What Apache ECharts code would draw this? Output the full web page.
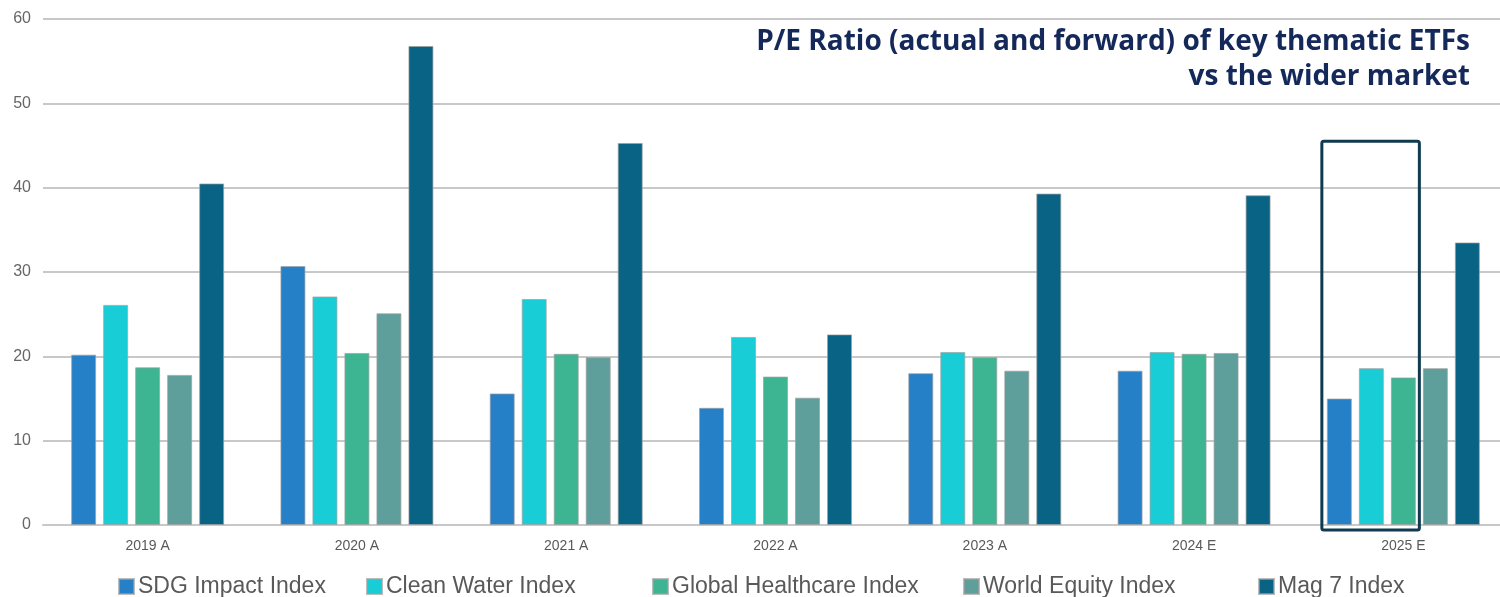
<!DOCTYPE html>
<html>
<head>
<meta charset="utf-8">
<script src="https://cdn.jsdelivr.net/npm/echarts@6/dist/echarts.min.js"></script>
<style>
  html, body { margin: 0; padding: 0; background: #fff; }
  #chart { width: 1500px; height: 597px; }
</style>
</head>
<body>
<div id="chart"></div>
<script>
// data
var years = ['2019 A', '2020 A', '2021 A', '2022 A', '2023 A', '2024 E', '2025 E'];
var sdg = [20.2, 30.7, 15.6, 13.9, 18.0, 18.3, 15.0];
var cleanWater = [26.1, 27.1, 26.8, 22.3, 20.5, 20.5, 18.6];
var healthcare = [18.7, 20.4, 20.3, 17.6, 19.9, 20.3, 17.5];
var worldEquity = [17.8, 25.1, 19.9, 15.1, 18.3, 20.4, 18.6];
var mag7 = [40.5, 56.8, 45.3, 22.6, 39.3, 39.1, 33.5];
var yTicks = [0, 10, 20, 30, 40, 50, 60];

var names = ['SDG Impact Index', 'Clean Water Index', 'Global Healthcare Index', 'World Equity Index', 'Mag 7 Index'];
var colors = ['#2680c8', '#19cdd6', '#3db592', '#5e9f9b', '#086384'];
var values = [sdg, cleanWater, healthcare, worldEquity, mag7];

var barW = 25, gapPct = 0.28;
var legendLeft = [118, 366, 652, 963, 1258];

var myChart = echarts.init(document.getElementById('chart'));

var series = [];
var legends = [];
for (var i = 0; i < names.length; i++) {
    series.push({
        name: names[i],
        type: 'bar',
        data: values[i],
        barWidth: barW,
        barGap: (gapPct * 100) + '%',
        itemStyle: {
            color: colors[i],
            borderColor: 'rgba(160,160,160,0.7)',
            borderWidth: 1
        }
    });
    // one legend per item, spacing is uneven in the original
    legends.push({
        data: [names[i]],
        left: legendLeft[i],
        top: 575,
        padding: 0,
        itemWidth: 15,
        itemHeight: 15,
        itemGap: 0,
        icon: 'rect',
        textStyle: {
            fontFamily: 'Liberation Sans',
            fontSize: 23,
            color: '#595959',
            padding: [0, 0, 0, -1]
        }
    });
}

option = {
    animation: false,
    backgroundColor: '#fff',
    color: colors,
    grid: {
        left: 43,
        top: 19,
        width: 1465,
        bottom: 72,
        containLabel: false,
        outerBoundsMode: 'none'
    },
    legend: legends,
    xAxis: {
        type: 'category',
        data: years,
        axisLine: { lineStyle: { color: '#c8c8c8', width: 2 } },
        axisTick: { show: false },
        axisLabel: {
            margin: 14,
            fontFamily: 'Liberation Sans',
            fontSize: 14,
            color: '#595959'
        }
    },
    yAxis: {
        type: 'value',
        min: yTicks[0],
        max: yTicks[yTicks.length - 1],
        interval: 10,
        axisLine: { show: false },
        axisTick: { show: false },
        splitLine: { lineStyle: { color: '#c8c8c8', width: 2 } },
        axisLabel: {
            margin: 12,
            fontFamily: 'Liberation Sans',
            fontSize: 16,
            color: '#666'
        }
    },
    series: series
};
myChart.setOption(option);

// highlight box round the first three 2025 E bars, plus the title
var c = myChart.convertToPixel({ xAxisIndex: 0 }, years[6]);
var yTop = myChart.convertToPixel({ yAxisIndex: 0 }, 45.5);
var yBot = myChart.convertToPixel({ yAxisIndex: 0 }, -0.6);
var gap = barW * gapPct;
var x0 = c - 2.5 * barW - 2 * gap - 5;
var x1 = c + 0.5 * barW + 3.5;
myChart.setOption({
    graphic: [{
        type: 'rect',
        shape: { x: x0, y: yTop, width: x1 - x0, height: yBot - yTop, r: 2 },
        style: { fill: 'none', stroke: '#0f3a4f', lineWidth: 3 },
        z: 100
    }, {
        type: 'text',
        z: 100,
        style: {
            x: 1470,
            y: 25,
            text: 'P/E Ratio (actual and forward) of key thematic ETFs\nvs the wider market',
            align: 'right',
            verticalAlign: 'top',
            fontFamily: 'Open Sans',
            fontSize: 28,
            fontWeight: 'bold',
            fill: '#14295a',
            lineHeight: 35
        }
    }]
});
</script>
</body>
</html>
